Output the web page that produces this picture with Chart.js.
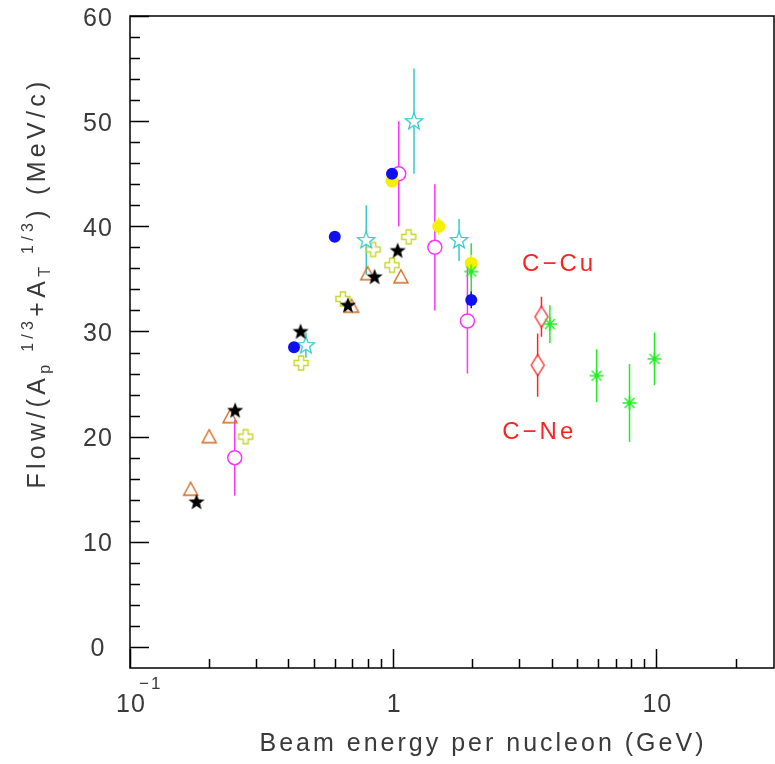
<!DOCTYPE html>
<html>
<head>
<meta charset="utf-8">
<script src="https://cdn.jsdelivr.net/npm/chart.js@4.4.0/dist/chart.umd.min.js"></script>
<style>
html, body { margin: 0; padding: 0; background: #fff; overflow: hidden; }
canvas { display: block; }
</style>
</head>
<body>
<canvas id="canvas" width="775" height="764"></canvas>
<script>
// values (x in GeV per nucleon, y in MeV/c)
var blackStarX = [0.179, 0.251, 0.445, 0.673, 0.85, 1.04];
var blackStarY = [13.8, 22.5, 30.0, 32.5, 35.2, 37.7];

var triangleX = [0.170, 0.200, 0.240, 0.695, 0.80, 1.07];
var triangleY = [15.0, 20.0, 21.9, 32.4, 35.5, 35.2];

var crossX = [0.275, 0.447, 0.644, 0.84, 0.99, 1.145];
var crossY = [20.0, 27.0, 33.1, 37.8, 36.3, 39.0];

var openCircleX = [0.25, 1.05, 1.44, 1.915];
var openCircleY = [18.0, 45.0, 38.0, 31.0];
var openCircleErr = [3.6, 5.0, 6.0, 5.0];

var openStarX = [0.466, 0.79, 1.20, 1.78];
var openStarY = [28.7, 38.7, 50.0, 38.7];
var openStarErr = [1.2, 3.3, 5.0, 2.0];

var blueX = [0.42, 0.60, 0.99, 1.98];
var blueY = [28.5, 39.0, 45.0, 33.0];
var blueErr = [0, 0, 0, 0.8];

var yellowX = [0.99, 1.49, 1.98];
var yellowY = [44.3, 40.0, 36.5];
var yellowErr = [0, 0.8, 0.8];

var greenX = [1.98, 3.94, 5.93, 7.91, 9.84];
var greenY = [35.7, 30.7, 25.8, 23.2, 27.4];
var greenErr = [2.7, 1.8, 2.5, 3.7, 2.5];

var diamondX = [3.66, 3.54];
var diamondY = [31.4, 26.8];
var diamondErr = [1.9, 3.0];

var xTickMajor = [0.1, 1, 10];
var xTickLabels = ['10', '1', '10'];
var yTickMajor = [0, 10, 20, 30, 40, 50, 60];

var FONT = '"Liberation Sans", Arial, sans-serif';
var TXT = '#3a3a3a';

function pts(xs, ys) {
    return xs.map(function (x, i) { return { x: x, y: ys[i] }; });
}

function mk(w, h, draw) {
    var c = document.createElement('canvas');
    c.width = w; c.height = h;
    draw(c.getContext('2d'), w / 2, h / 2);
    return c;
}

function starPath(g, cx, cy, ro, ri) {
    g.beginPath();
    for (var i = 0; i < 10; i++) {
        var r = i % 2 ? ri : ro;
        var a = -Math.PI / 2 + i * Math.PI / 5;
        g.lineTo(cx + r * Math.cos(a), cy + r * Math.sin(a));
    }
    g.closePath();
}

var imgBlackStar = mk(20, 20, function (g, cx, cy) {
    starPath(g, cx, cy + 0.5, 8.5, 3.6);
    g.fillStyle = '#000'; g.fill();
});
var imgOpenStar = mk(22, 22, function (g, cx, cy) {
    starPath(g, cx, cy + 0.5, 9, 3.8);
    g.fillStyle = '#fff'; g.fill();
    g.strokeStyle = '#33cccc'; g.lineWidth = 1.3; g.stroke();
});
var imgTriangle = mk(18, 18, function (g, cx, cy) {
    g.beginPath();
    g.moveTo(cx, cy - 7); g.lineTo(cx + 7, cy + 6); g.lineTo(cx - 7, cy + 6);
    g.closePath();
    g.strokeStyle = '#d2691e'; g.lineWidth = 1.4; g.stroke();
});
var imgCross = mk(18, 18, function (g, cx, cy) {
    var a = 2.5, b = 7;
    g.beginPath();
    g.moveTo(cx - a, cy - b); g.lineTo(cx + a, cy - b); g.lineTo(cx + a, cy - a);
    g.lineTo(cx + b, cy - a); g.lineTo(cx + b, cy + a); g.lineTo(cx + a, cy + a);
    g.lineTo(cx + a, cy + b); g.lineTo(cx - a, cy + b); g.lineTo(cx - a, cy + a);
    g.lineTo(cx - b, cy + a); g.lineTo(cx - b, cy - a); g.lineTo(cx - a, cy - a);
    g.closePath();
    g.strokeStyle = '#c6d62a'; g.lineWidth = 1.4; g.stroke();
});
var imgDiamond = mk(18, 26, function (g, cx, cy) {
    g.beginPath();
    g.moveTo(cx, cy - 10.5); g.lineTo(cx + 6.5, cy); g.lineTo(cx, cy + 10.5); g.lineTo(cx - 6.5, cy);
    g.closePath();
    g.fillStyle = '#fff'; g.fill();
    g.strokeStyle = '#ff2222'; g.lineWidth = 1.3; g.stroke();
});
var imgAsterisk = mk(20, 20, function (g, cx, cy) {
    g.strokeStyle = '#22ee22'; g.lineWidth = 1.4;
    g.beginPath();
    for (var i = 0; i < 4; i++) {
        var a = i * Math.PI / 4;
        g.moveTo(cx - 7 * Math.cos(a), cy - 7 * Math.sin(a));
        g.lineTo(cx + 7 * Math.cos(a), cy + 7 * Math.sin(a));
    }
    g.stroke();
    g.fillStyle = '#22ee22';
    g.beginPath(); g.arc(cx, cy, 2, 0, 2 * Math.PI); g.fill();
});

function text(ctx, s, x, y, size, align, color, spacing) {
    ctx.font = size + 'px ' + FONT;
    ctx.textAlign = align;
    ctx.textBaseline = 'alphabetic';
    ctx.fillStyle = color;
    ctx.letterSpacing = (spacing || 0) + 'px';
    ctx.fillText(s, x, y);
}

var decor = {
    id: 'decor',
    beforeDatasetsDraw: function (chart) {
        var ctx = chart.ctx, ys = chart.scales.y;
        chart.data.datasets.forEach(function (ds, i) {
            if (!ds.errors) return;
            var meta = chart.getDatasetMeta(i);
            ctx.save();
            ctx.strokeStyle = ds.errColor;
            ctx.lineWidth = 1.5;
            ds.data.forEach(function (p, j) {
                var e = ds.errors[j];
                if (!e) return;
                var px = meta.data[j].x;
                ctx.beginPath();
                ctx.moveTo(px, ys.getPixelForValue(p.y - e));
                ctx.lineTo(px, ys.getPixelForValue(p.y + e));
                ctx.stroke();
            });
            ctx.restore();
        });
    },
    afterDraw: function (chart) {
        var ctx = chart.ctx, a = chart.chartArea;
        var xs = chart.scales.x, ys = chart.scales.y;
        ctx.save();

        // frame
        ctx.strokeStyle = '#000';
        ctx.lineWidth = 1.5;
        ctx.strokeRect(a.left, a.top, a.right - a.left, a.bottom - a.top);

        // x ticks (log decades)
        ctx.beginPath();
        for (var d = 0.1; d < 100; d *= 10) {
            for (var m = 1; m < 10; m++) {
                var v = d * m;
                if (v > xs.max) break;
                var px = Math.round(xs.getPixelForValue(v)) + 0.5;
                var len = m === 1 ? 19 : 9;
                ctx.moveTo(px, a.bottom);
                ctx.lineTo(px, a.bottom - len);
            }
        }
        // y ticks
        for (var t = 0; t <= 60; t += 2) {
            var py = Math.round(ys.getPixelForValue(t)) + 0.5;
            var l = t % 10 === 0 ? 19 : 10;
            ctx.moveTo(a.left, py);
            ctx.lineTo(a.left + l, py);
        }
        ctx.stroke();

        // y tick labels
        yTickMajor.forEach(function (t) {
            text(ctx, String(t), 98, ys.getPixelForValue(t) + 9.5, 25, 'center', TXT, 1);
        });
        // x tick labels
        xTickMajor.forEach(function (v, i) {
            text(ctx, xTickLabels[i], xs.getPixelForValue(v) + 1, 712, 25, 'center', TXT, 1);
        });
        text(ctx, '\u22121', 139, 689, 17, 'left', TXT, 2);

        // axis titles
        text(ctx, 'Beam energy per nucleon (GeV)', 483, 751, 25, 'center', TXT, 3);

        var parts = [
            ['Flow/(A', 25, 0], ['p', 16, 5], [' 1/3', 16, -12], ['+A', 25, 0],
            ['T', 16, 5], [' 1/3', 16, -12], [') (MeV/c)', 25, 0]
        ];
        ctx.save();
        ctx.translate(45, 283);
        ctx.rotate(-Math.PI / 2);
        ctx.textAlign = 'left';
        ctx.textBaseline = 'alphabetic';
        ctx.fillStyle = TXT;
        ctx.letterSpacing = '4.3px';
        var total = 0;
        parts.forEach(function (p) {
            ctx.font = p[1] + 'px ' + FONT;
            total += ctx.measureText(p[0]).width;
        });
        var cx = -total / 2;
        parts.forEach(function (p) {
            ctx.font = p[1] + 'px ' + FONT;
            ctx.fillText(p[0], cx, p[2]);
            cx += ctx.measureText(p[0]).width;
        });
        ctx.restore();

        // reaction labels
        text(ctx, 'C\u2212Cu', xs.getPixelForValue(4.27), ys.getPixelForValue(36.6) + 9, 24, 'center', '#ff2222', 3);
        text(ctx, 'C\u2212Ne', xs.getPixelForValue(3.59), ys.getPixelForValue(20.6) + 9, 24, 'center', '#ff2222', 3);

        ctx.restore();
    }
};

var ctx = document.getElementById('canvas').getContext('2d');
var config = {
    type: 'scatter',
    data: {
        datasets: [
            { label: 'asterisk', data: pts(greenX, greenY), pointStyle: imgAsterisk, errors: greenErr, errColor: '#22ee22' },
            { label: 'diamond', data: pts(diamondX, diamondY), pointStyle: imgDiamond, errors: diamondErr, errColor: '#ff2222' },
            { label: 'blackStar', data: pts(blackStarX, blackStarY), pointStyle: imgBlackStar },
            { label: 'blue', data: pts(blueX, blueY), pointStyle: 'circle', pointRadius: 6, backgroundColor: '#1010ee', borderWidth: 0, errors: blueErr, errColor: '#1010ee' },
            { label: 'yellow', data: pts(yellowX, yellowY), pointStyle: 'circle', pointRadius: 6.5, backgroundColor: '#f5f000', borderWidth: 0, errors: yellowErr, errColor: '#f5f000' },
            { label: 'openCircle', data: pts(openCircleX, openCircleY), pointStyle: 'circle', pointRadius: 7, backgroundColor: '#fff', borderColor: '#ff33ff', borderWidth: 1.5, errors: openCircleErr, errColor: '#ff33ff' },
            { label: 'openStar', data: pts(openStarX, openStarY), pointStyle: imgOpenStar, errors: openStarErr, errColor: '#33cccc' },
            { label: 'cross', data: pts(crossX, crossY), pointStyle: imgCross },
            { label: 'triangle', data: pts(triangleX, triangleY), pointStyle: imgTriangle }
        ]
    },
    options: {
        responsive: false,
        animation: false,
        layout: { autoPadding: false, padding: { left: 130, right: 1, top: 16, bottom: 96 } },
        plugins: { legend: { display: false }, tooltip: { enabled: false } },
        scales: {
            x: { type: 'logarithmic', min: 0.1, max: 28, display: false },
            y: { type: 'linear', min: -2, max: 60, display: false }
        }
    },
    plugins: [decor]
};

var chart = new Chart(ctx, config);
</script>
</body>
</html>
